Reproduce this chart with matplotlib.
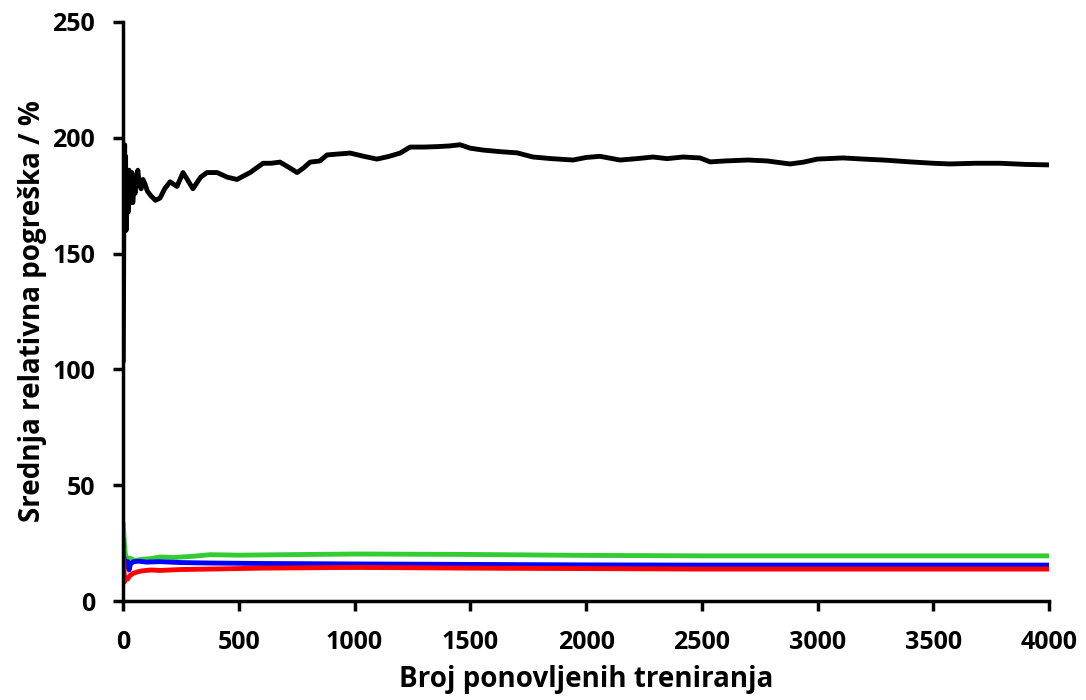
"""
Srednja relativna pogreška u ovisnosti o broju ponovljenih treniranja.
"""
import matplotlib
matplotlib.use("Agg")
import matplotlib.pyplot as plt

# crna krivulja (očitano sa slike)
black_x = [1, 3, 5, 7, 9, 11, 13, 15, 17, 20, 23, 26, 30, 34, 38, 42, 47, 52, 58, 64,
           70, 78, 86, 95, 105, 120, 140, 160, 180, 203, 233, 259, 302, 335, 363,
           406, 450, 492, 549, 605, 640, 678, 720, 752, 780, 808, 850, 881, 930,
           981, 1040, 1097, 1150, 1197, 1240, 1300, 1360, 1413, 1456, 1500, 1555,
           1630, 1702, 1771, 1850, 1944, 2000, 2060, 2147, 2220, 2289, 2350, 2419,
           2492, 2536, 2600, 2700, 2782, 2881, 2940, 2998, 3110, 3200, 3283, 3400,
           3500, 3572, 3680, 3788, 3900, 4000]
black_y = [104, 152, 185, 197, 170, 192, 160, 186, 175, 183, 168, 186, 172, 180,
           185, 172, 179, 176, 183, 186, 180, 178, 182, 180, 177, 175, 173, 174,
           178, 181, 179, 185, 178, 183, 185, 185, 183, 182, 185, 189, 189, 189.5,
           187, 185, 187, 189.5, 190, 192.6, 193, 193.4, 192, 190.8, 192, 193.4,
           196, 196, 196.2, 196.5, 197, 195.5, 194.7, 194, 193.5, 191.7, 191,
           190.4, 191.5, 192, 190.4, 191, 191.7, 191, 191.7, 191.3, 189.6, 190,
           190.4, 190, 188.7, 189.5, 190.8, 191.3, 190.8, 190.4, 189.6, 189,
           188.7, 189, 189, 188.5, 188.3]

# zelena krivulja
green_x = [1, 5, 10, 20, 30, 50, 80, 120, 160, 220, 300, 376, 500, 700, 1011, 1500,
           2000, 2500, 3000, 3500, 4000]
green_y = [33, 26, 20, 18, 18.5, 17.5, 18, 18.3, 19, 18.8, 19.3, 20, 19.8, 20,
           20.3, 20.1, 19.7, 19.5, 19.5, 19.5, 19.5]

# plava krivulja
blue_x = [1, 5, 10, 20, 26, 32, 45, 70, 100, 160, 250, 376, 600, 1011, 1500, 2000,
          2500, 3000, 3500, 4000]
blue_y = [20, 18, 15, 17, 13.4, 16, 17, 17.2, 16.8, 17, 16.6, 16.4, 16.2, 16, 15.8,
          15.6, 15.5, 15.5, 15.5, 15.5]

# crvena krivulja
red_x = [1, 3, 6, 10, 20, 30, 45, 60, 80, 120, 160, 250, 376, 600, 1011, 1500,
         2000, 2500, 3000, 3500, 4000]
red_y = [26.3, 18, 8.2, 10, 9.5, 11, 12, 12.5, 13, 13.4, 13.2, 13.6, 13.8, 14.2,
         14.5, 14.2, 14, 13.8, 13.8, 13.8, 13.8]

x_ticks = [0, 500, 1000, 1500, 2000, 2500, 3000, 3500, 4000]
y_ticks = [0, 50, 100, 150, 200, 250]


def main():
    plt.rcParams["font.family"] = ["Open Sans", "DejaVu Sans"]
    plt.rcParams["font.weight"] = "bold"

    fig = plt.figure(figsize=(10.86, 7.0), dpi=100)
    ax = fig.add_axes([0.1133, 0.1414, 0.8527, 0.8272])

    ax.plot(green_x, green_y, color="#33CC33", lw=3.5)
    ax.plot(blue_x, blue_y, color="#0000FF", lw=3.5)
    ax.plot(red_x, red_y, color="#FF0000", lw=3.5)
    ax.plot(black_x, black_y, color="black", lw=3.5)

    ax.set_xlim(0, 4000)
    ax.set_ylim(0, 250)
    ax.set_xticks(x_ticks)
    ax.set_yticks(y_ticks)

    for side in ("top", "right"):
        ax.spines[side].set_visible(False)
    for side in ("left", "bottom"):
        ax.spines[side].set_linewidth(2.5)

    ax.tick_params(direction="out", length=7, width=2.5, labelsize=18)
    ax.tick_params(axis="y", pad=13)
    ax.tick_params(axis="x", pad=14)
    for lbl in ax.get_xticklabels() + ax.get_yticklabels():
        lbl.set_fontweight("bold")

    ax.set_xlabel("Broj ponovljenih treniranja", fontsize=20, fontweight="bold", labelpad=7)
    ax.set_ylabel("Srednja relativna pogreška / %", fontsize=20, fontweight="bold", labelpad=4)

    fig.savefig("out.png", dpi=100)
    plt.close(fig)


if __name__ == "__main__":
    main()
